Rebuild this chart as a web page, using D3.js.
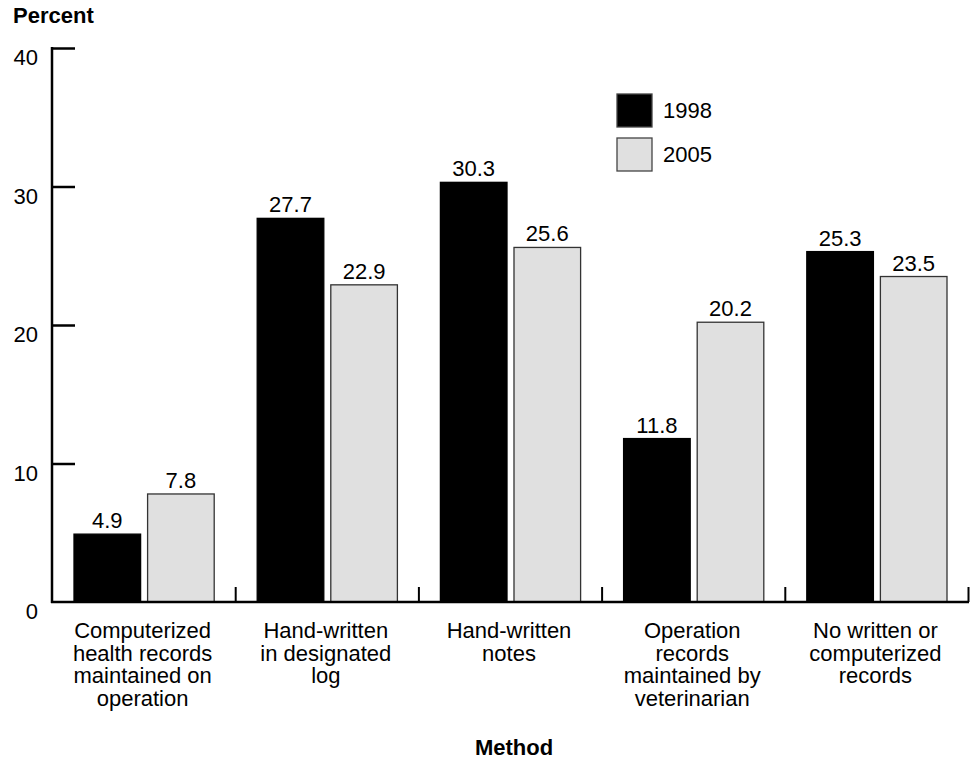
<!DOCTYPE html>
<html><head><meta charset="utf-8">
<script src="https://cdn.jsdelivr.net/npm/d3@7"></script>
<style>body{margin:0;background:#fff}svg{display:block;font-family:"Liberation Sans",Arial,Helvetica,sans-serif}</style>
</head><body><svg id="c" width="972" height="761"></svg>
<script>
const categories = [
  ["Computerized","health records","maintained on","operation"],
  ["Hand-written","in designated","log"],
  ["Hand-written","notes"],
  ["Operation","records","maintained by","veterinarian"],
  ["No written or","computerized","records"]
];
const seriesNames = ["1998","2005"];
const values1998 = [4.9, 27.7, 30.3, 11.8, 25.3];
const values2005 = [7.8, 22.9, 25.6, 20.2, 23.5];
const yTicks = [0, 10, 20, 30, 40];

(function(){
const svg = d3.select("#c");
const mLeft = 52, mRight = 968, mTop = 48, mBottom = 602;
const fs = 22;
const x = d3.scaleBand().domain(d3.range(categories.length)).range([mLeft, mRight]).paddingInner(0).paddingOuter(0);
const sub = d3.scaleBand().domain(seriesNames).range([22, x.bandwidth() - 21]).paddingInner(0.095);
const y = d3.scaleLinear().domain([0, 40]).range([mBottom, mTop]);
const fills = {"1998": "#000", "2005": "#e0e0e0"};
const strokes = {"1998": "#000", "2005": "#333"};

const data = categories.map((c, i) => ({i, vals: [values1998[i], values2005[i]]}));

// bars
const g = svg.append("g").selectAll("g").data(data).join("g")
  .attr("transform", d => `translate(${x(d.i)},0)`);
g.selectAll("rect").data(d => d.vals.map((v, k) => ({k: seriesNames[k], v}))).join("rect")
  .attr("x", d => sub(d.k)).attr("width", sub.bandwidth())
  .attr("y", d => y(d.v)).attr("height", d => y(0) - y(d.v))
  .attr("fill", d => fills[d.k]).attr("stroke", d => strokes[d.k]).attr("stroke-width", 1.3);
g.selectAll("text").data(d => d.vals.map((v, k) => ({k: seriesNames[k], v}))).join("text")
  .attr("x", d => sub(d.k) + sub.bandwidth() / 2).attr("y", d => y(d.v) - 6)
  .attr("text-anchor", "middle").attr("font-size", fs).attr("fill", "#000")
  .text(d => d.v.toFixed(1));

// y axis
const ya = svg.append("g").attr("transform", `translate(${mLeft},0)`)
  .call(d3.axisRight(y).tickValues(yTicks).tickSize(23).tickFormat(""));
ya.select(".domain").remove();
ya.selectAll(".tick line").attr("stroke", "#000").attr("stroke-width", 2.5);
ya.selectAll(".tick").filter(d => d === 0).remove();
svg.append("line").attr("x1", mLeft).attr("x2", mLeft).attr("y1", mTop - 1).attr("y2", mBottom + 1)
  .attr("stroke", "#000").attr("stroke-width", 2.5);
svg.append("g").selectAll("text").data(yTicks).join("text")
  .attr("x", 38).attr("y", d => y(d) + 17).attr("text-anchor", "end")
  .attr("font-size", fs).text(d => d);

// x axis
const xa = svg.append("g").attr("transform", `translate(0,${mBottom})`)
  .call(d3.axisTop(d3.scaleLinear().domain([0, categories.length]).range([mLeft, mRight]))
    .tickValues(d3.range(1, categories.length + 1)).tickSize(15).tickFormat(""));
xa.select(".domain").remove();
xa.selectAll(".tick line").attr("stroke", "#000").attr("stroke-width", 2);
svg.append("line").attr("x1", mLeft - 1).attr("x2", mRight + 1).attr("y1", mBottom).attr("y2", mBottom)
  .attr("stroke", "#000").attr("stroke-width", 2.5);

// category labels
const cl = svg.append("g").selectAll("text").data(categories).join("text")
  .attr("text-anchor", "middle").attr("font-size", fs)
  .attr("transform", (d, i) => `translate(${x(i) + x.bandwidth() / 2 - 1},638)`);
cl.selectAll("tspan").data(d => d).join("tspan")
  .attr("x", 0).attr("y", (d, j) => j * 22.7).text(d => d);

// legend
const lg = svg.append("g").selectAll("g").data(seriesNames).join("g")
  .attr("transform", (d, i) => `translate(617,${94 + i * 44})`);
lg.append("rect").attr("width", 35).attr("height", 33)
  .attr("fill", d => fills[d]).attr("stroke", "#444").attr("stroke-width", 1.3);
lg.append("text").attr("x", 46).attr("y", 24).attr("font-size", fs).text(d => d);

// titles
svg.append("text").attr("x", 13).attr("y", 23).attr("font-size", 22).attr("font-weight", "bold").text("Percent");
svg.append("text").attr("x", 514).attr("y", 755).attr("text-anchor", "middle")
  .attr("font-size", 22).attr("font-weight", "bold").text("Method");
})();
</script></body></html>
